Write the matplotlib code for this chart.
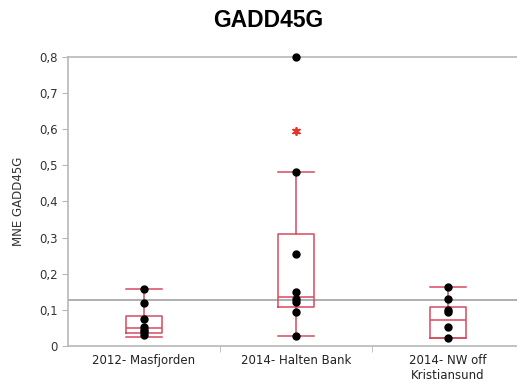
import numpy as np
import matplotlib
matplotlib.use("Agg")
from matplotlib import pyplot as plt

# Data
groups = ["2012- Masfjorden", "2014- Halten Bank", "2014- NW off\nKristiansund"]
points = [
    [0.158, 0.119, 0.075, 0.053, 0.045, 0.038, 0.030],
    [0.800, 0.481, 0.256, 0.150, 0.129, 0.121, 0.093, 0.029],
    [0.164, 0.130, 0.100, 0.095, 0.053, 0.023],
]
whisk_lo = [0.025, 0.029, 0.023]
q1 = [0.036, 0.109, 0.023]
med = [0.050, 0.137, 0.072]
q3 = [0.084, 0.310, 0.109]
whisk_hi = [0.158, 0.481, 0.164]
star_group = [2]
star_value = [0.596]
ref_line = 0.127

box_col = "#d84a5f"
grey = "#b8b8b8"

fig = plt.figure(figsize=(5.17, 3.85), dpi=100)
ax = fig.add_axes([0.1315, 0.1013, 0.8685, 0.7507])

stats = []
for i in range(len(groups)):
    stats.append(dict(med=med[i], q1=q1[i], q3=q3[i],
                      whislo=whisk_lo[i], whishi=whisk_hi[i], fliers=[]))
ax.bxp(stats, positions=[1, 2, 3], widths=0.24, showfliers=False,
       boxprops=dict(color=box_col, lw=1.1),
       medianprops=dict(color=box_col, lw=1.1),
       whiskerprops=dict(color=box_col, lw=1.1),
       capprops=dict(color=box_col, lw=1.1), capwidths=0.24)

for i, vals in enumerate(points):
    ax.scatter(np.full(len(vals), i + 1), vals, s=25, color="black",
               zorder=5, clip_on=False)

ax.scatter(star_group, star_value, marker=(6, 2, 0), s=28, color="#e8352b",
           lw=1.3, zorder=5)

ax.axhline(ref_line, color="#999999", lw=1.1, zorder=1)

ax.set_ylim(0, 0.8)
ax.set_xlim(0.5, 0.5 + (517 - 68) / 152)
yt = np.arange(0, 0.81, 0.1)
ax.set_yticks(yt)
ax.set_yticklabels(["0" if v == 0 else ("%.1f" % v).replace(".", ",") for v in yt],
                   fontsize=8.5, color="#333333")
ax.set_xticks([1, 2, 3])
ax.set_xticklabels(groups, fontsize=8.5, color="#222222")
ax.set_xticks([1.5, 2.5], minor=True)
ax.tick_params(axis="x", which="major", length=0, pad=6)
ax.tick_params(axis="x", which="minor", length=4, color=grey)
ax.tick_params(axis="y", length=4, color=grey)

for s in ["left", "bottom", "top"]:
    ax.spines[s].set_color(grey)
    ax.spines[s].set_linewidth(1.2)
ax.spines["right"].set_visible(False)

ax.set_ylabel("MNE GADD45G", fontsize=8.5, color="#333333", labelpad=10)
fig.text(0.518, 0.946, "GADD45G", ha="center", va="center",
         fontsize=16.5, fontweight="bold", family="Liberation Sans")

fig.savefig("out.png", dpi=100)
